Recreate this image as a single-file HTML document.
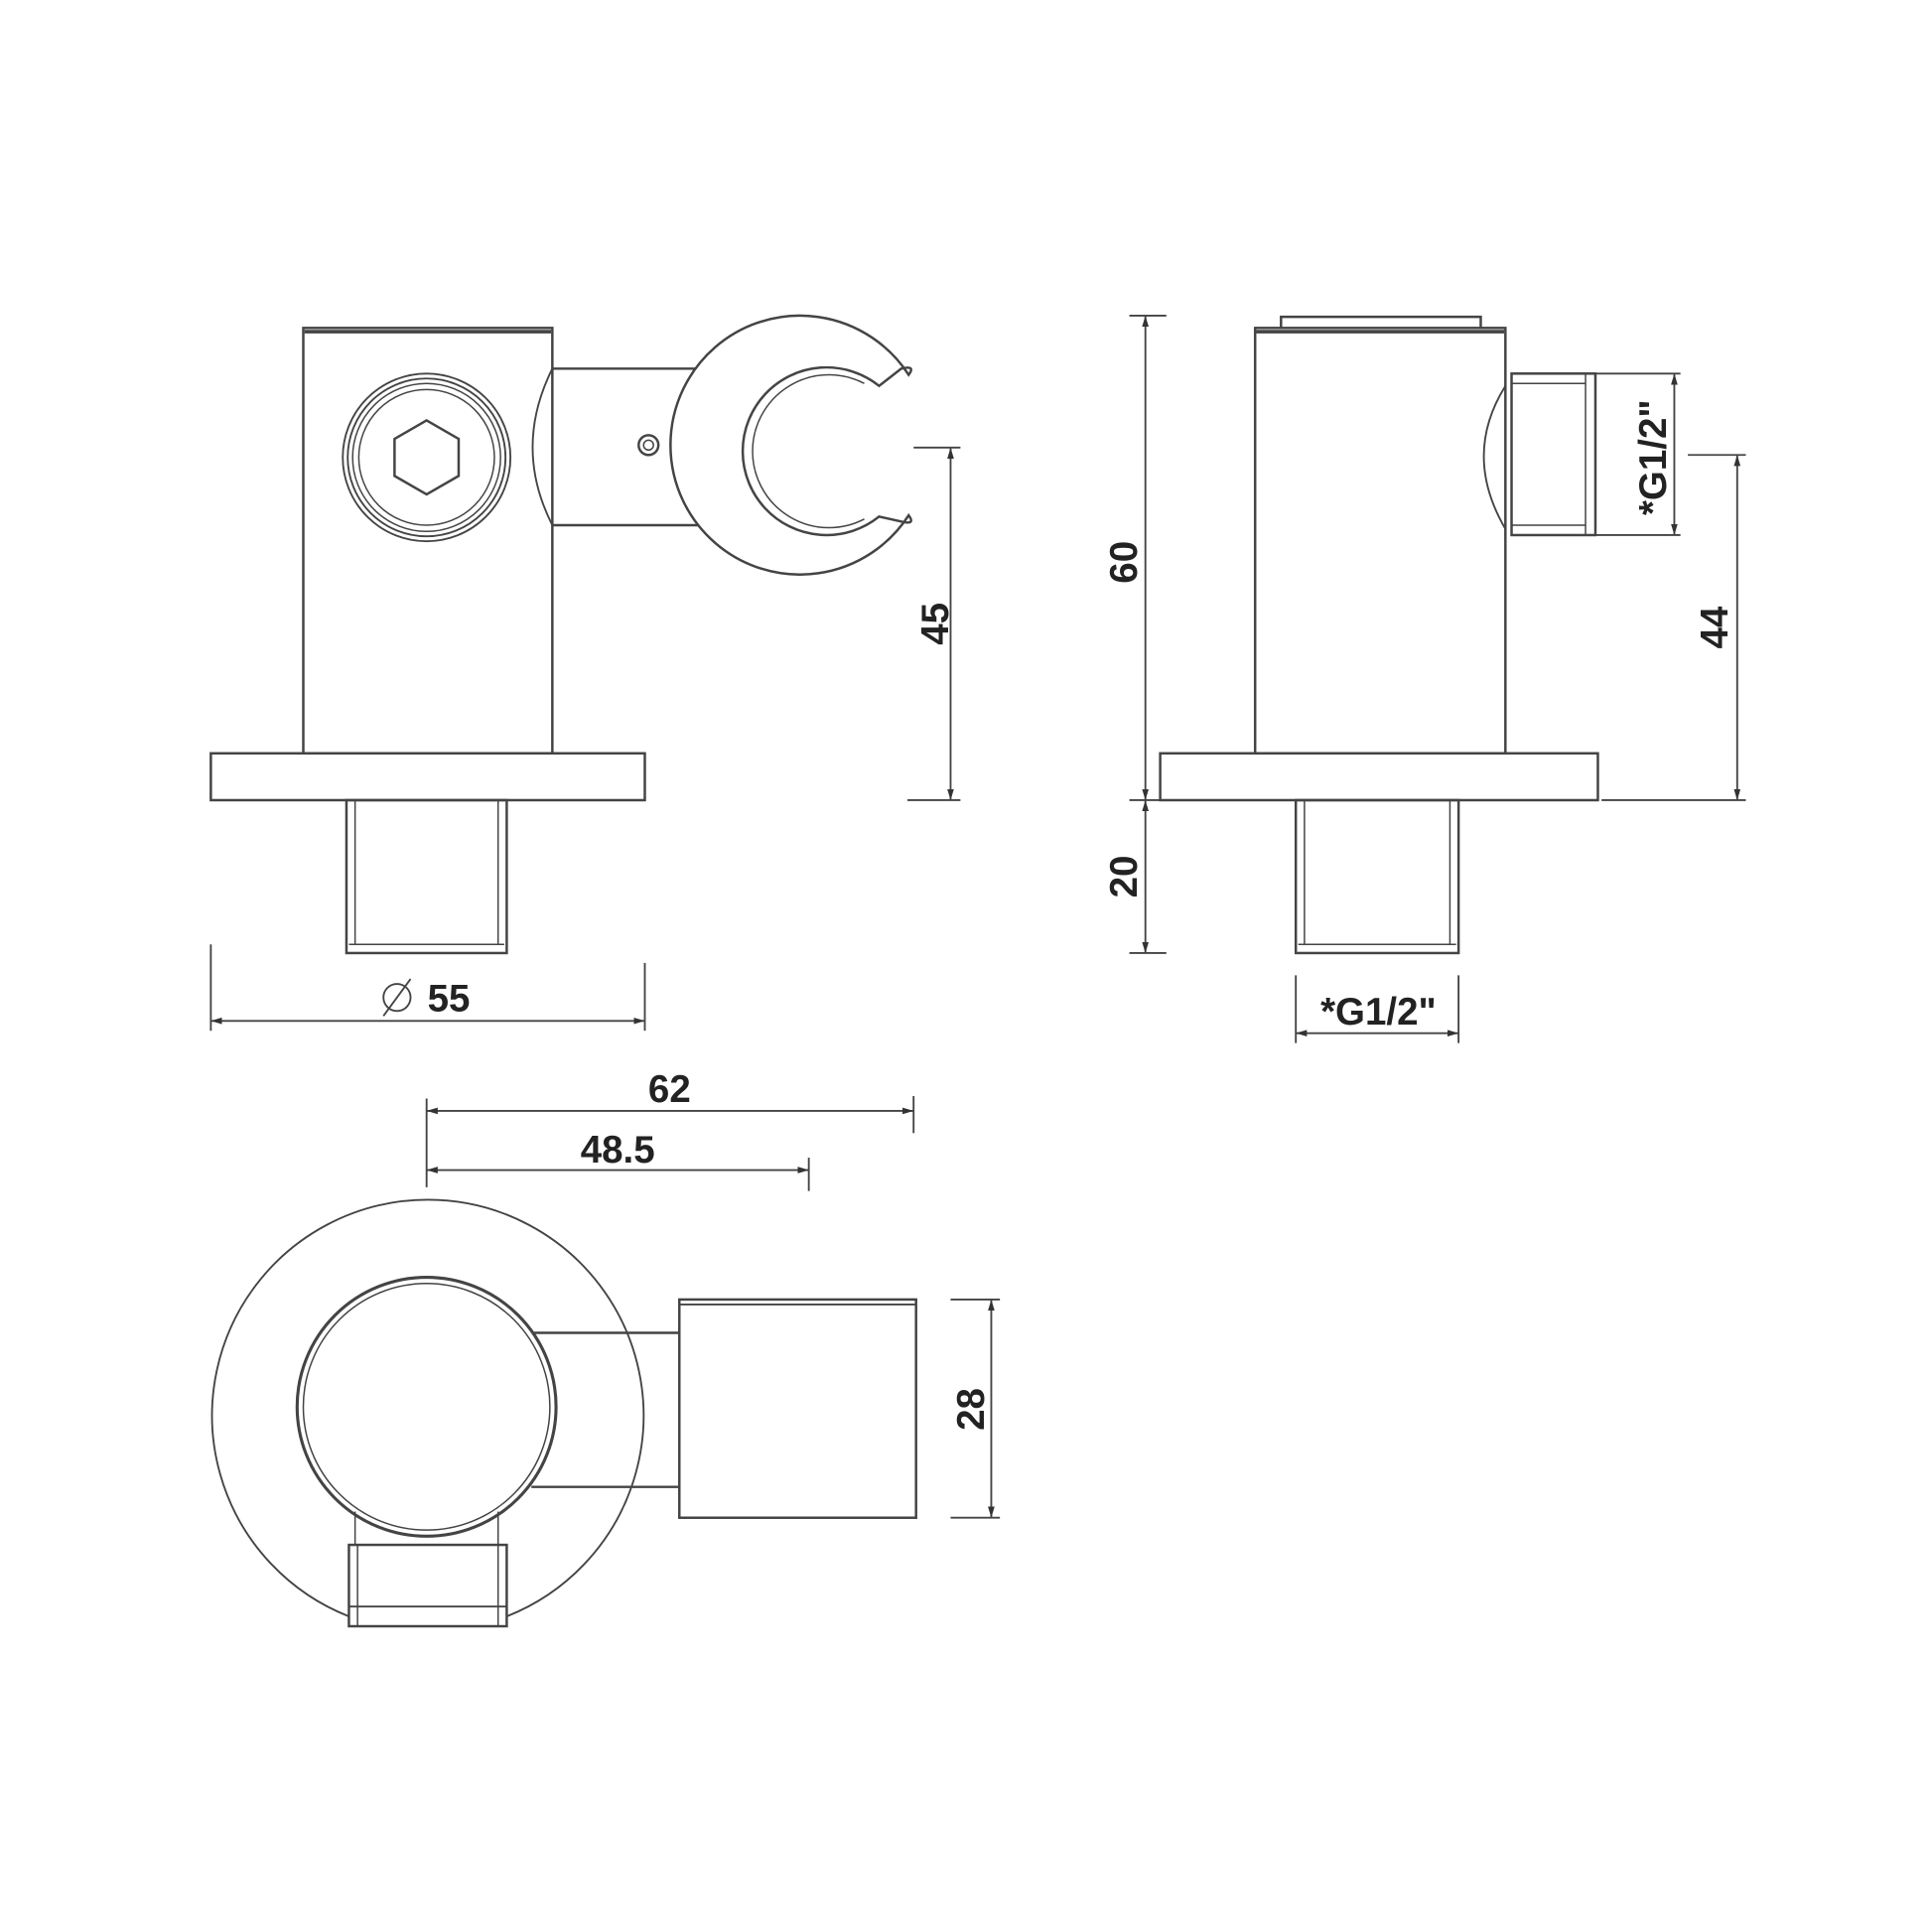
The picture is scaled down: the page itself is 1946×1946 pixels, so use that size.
<!DOCTYPE html>
<html><head><style>html,body{margin:0;padding:0;background:#fff}svg{display:block}</style></head>
<body>
<svg width="1946" height="1946" viewBox="-1 -1 1567 1567" xmlns="http://www.w3.org/2000/svg">
<defs>
<marker id="a" viewBox="0 0 10 10" refX="10" refY="5" markerWidth="9" markerHeight="9" orient="auto-start-reverse" markerUnits="userSpaceOnUse"><path d="M0,2 L10,5 L0,8 z" fill="#333"/></marker>
</defs>
<g fill="none" stroke="#444" stroke-width="2">
<!-- FRONT VIEW -->
<rect x="245" y="265" width="202" height="345"/>
<line x1="246" y1="268" x2="446" y2="268" stroke-width="3"/>
<rect x="170" y="610" width="352" height="38"/>
<rect x="280" y="648" width="130" height="124"/>
<line x1="287" y1="648" x2="287" y2="765" stroke-width="1.2"/>
<line x1="403" y1="648" x2="403" y2="765" stroke-width="1.2"/>
<line x1="282" y1="765" x2="408" y2="765" stroke-width="1.2"/>
<circle cx="345" cy="370" r="68" stroke-width="1.5"/>
<circle cx="345" cy="370" r="64" stroke-width="1.5"/>
<circle cx="345" cy="370" r="60" stroke-width="1.2"/>
<circle cx="345" cy="370" r="55" stroke-width="1.2"/>
<polygon points="345,340 371,355 371,385 345,400 319,385 319,355"/>
<path d="M447,298 L570,298 M447,425 L565,425"/>
<path d="M447,298 Q415,362 447,425" stroke-width="1.5"/>
<circle cx="525" cy="360" r="8"/>
<circle cx="525" cy="360" r="4" stroke-width="1.2"/>
<path d="M736,303 A105,105 0 1 0 736,417 Q742,425 730,422 L712,418 A68,68 0 1 1 712,312 L730,298 Q742,295 736,303 Z" fill="#fff"/>
<path d="M700,310 A62,62 0 1 0 700,420" stroke-width="1.2"/>
<!-- 45 -->
<line x1="770" y1="362" x2="770" y2="648" stroke-width="1.5" marker-start="url(#a)" marker-end="url(#a)"/>
<line x1="740" y1="362" x2="778" y2="362" stroke-width="1.5"/>
<line x1="735" y1="648" x2="778" y2="648" stroke-width="1.5"/>
<!-- 55 -->
<line x1="170" y1="827" x2="522" y2="827" stroke-width="1.5" marker-start="url(#a)" marker-end="url(#a)"/>
<line x1="170" y1="765" x2="170" y2="835" stroke-width="1.5"/>
<line x1="522" y1="780" x2="522" y2="835" stroke-width="1.5"/>
<circle cx="321" cy="808" r="11" stroke-width="1.5"/>
<line x1="310" y1="823" x2="332" y2="793" stroke-width="1.5"/>

<!-- SIDE VIEW -->
<rect x="1017" y="265" width="203" height="345"/>
<line x1="1018" y1="268" x2="1219" y2="268" stroke-width="3"/>
<path d="M1038,265 L1038,256 L1200,256 L1200,265"/>
<rect x="940" y="610" width="355" height="38"/>
<rect x="1050" y="648" width="132" height="124"/>
<line x1="1057" y1="648" x2="1057" y2="765" stroke-width="1.2"/>
<line x1="1175" y1="648" x2="1175" y2="765" stroke-width="1.2"/>
<line x1="1052" y1="765" x2="1180" y2="765" stroke-width="1.2"/>
<path d="M1220,312 Q1185,368 1220,428" stroke-width="1.5"/>
<rect x="1225" y="302" width="68" height="131"/>
<line x1="1225" y1="310" x2="1285" y2="310" stroke-width="1.2"/>
<line x1="1225" y1="425" x2="1285" y2="425" stroke-width="1.2"/>
<line x1="1285" y1="302" x2="1285" y2="433" stroke-width="1.2"/>
<!-- 60/20 -->
<line x1="928" y1="255" x2="928" y2="648" stroke-width="1.5" marker-start="url(#a)" marker-end="url(#a)"/>
<line x1="928" y1="648" x2="928" y2="772" stroke-width="1.5" marker-start="url(#a)" marker-end="url(#a)"/>
<line x1="915" y1="255" x2="945" y2="255" stroke-width="1.5"/>
<line x1="915" y1="648" x2="940" y2="648" stroke-width="1.5"/>
<line x1="915" y1="772" x2="945" y2="772" stroke-width="1.5"/>
<!-- 44 -->
<line x1="1408" y1="368" x2="1408" y2="648" stroke-width="1.5" marker-start="url(#a)" marker-end="url(#a)"/>
<line x1="1368" y1="368" x2="1415" y2="368" stroke-width="1.5"/>
<line x1="1298" y1="648" x2="1415" y2="648" stroke-width="1.5"/>
<!-- G1/2 side -->
<line x1="1357" y1="302" x2="1357" y2="433" stroke-width="1.5" marker-start="url(#a)" marker-end="url(#a)"/>
<line x1="1293" y1="302" x2="1362" y2="302" stroke-width="1.5"/>
<line x1="1293" y1="433" x2="1362" y2="433" stroke-width="1.5"/>
<!-- G1/2 bottom -->
<line x1="1050" y1="837" x2="1182" y2="837" stroke-width="1.5" marker-start="url(#a)" marker-end="url(#a)"/>
<line x1="1050" y1="790" x2="1050" y2="845" stroke-width="1.5"/>
<line x1="1182" y1="790" x2="1182" y2="845" stroke-width="1.5"/>

<!-- TOP VIEW -->
<line x1="345" y1="900" x2="740" y2="900" stroke-width="1.5" marker-start="url(#a)" marker-end="url(#a)"/>
<line x1="345" y1="890" x2="345" y2="962" stroke-width="1.5"/>
<line x1="740" y1="888" x2="740" y2="918" stroke-width="1.5"/>
<line x1="345" y1="948" x2="655" y2="948" stroke-width="1.5" marker-start="url(#a)" marker-end="url(#a)"/>
<line x1="655" y1="938" x2="655" y2="965" stroke-width="1.5"/>
<path d="M282,1310 A175,175 0 1 1 410,1310" stroke-width="1.5"/>
<circle cx="345" cy="1140" r="105" stroke-width="2.5"/>
<circle cx="345" cy="1140" r="100" stroke-width="1.2"/>
<path d="M432,1080 L550,1080 M430,1205 L550,1205"/>
<path d="M550,1080 Q595,1140 550,1205" stroke-width="1.5"/>
<path d="M287,1225 L287,1252 M403,1225 L403,1252" stroke-width="1.2"/>
<rect x="550" y="1053" width="192" height="177" fill="#fff"/>
<line x1="551" y1="1057" x2="741" y2="1057" stroke-width="1.5"/>
<rect x="282" y="1252" width="128" height="66" fill="#fff"/>
<line x1="282" y1="1302" x2="410" y2="1302" stroke-width="1.5"/>
<line x1="289" y1="1252" x2="289" y2="1318" stroke-width="1.2"/>
<line x1="403" y1="1252" x2="403" y2="1318" stroke-width="1.2"/>
<!-- 28 -->
<line x1="803" y1="1053" x2="803" y2="1230" stroke-width="1.5" marker-start="url(#a)" marker-end="url(#a)"/>
<line x1="770" y1="1053" x2="810" y2="1053" stroke-width="1.5"/>
<line x1="770" y1="1230" x2="810" y2="1230" stroke-width="1.5"/>
</g>
<g font-family="Liberation Sans, Arial, sans-serif" font-weight="bold" font-size="31" fill="#222" text-anchor="middle">
<text x="363" y="819">55</text>
<text x="542" y="893">62</text>
<text x="500" y="942">48.5</text>
<text x="1117" y="830">*G1/2"</text>
<text transform="translate(768,505) rotate(-90)">45</text>
<text transform="translate(921,455) rotate(-90)">60</text>
<text transform="translate(921,710) rotate(-90)">20</text>
<text transform="translate(1400,508) rotate(-90)">44</text>
<text transform="translate(1350,370) rotate(-90)">*G1/2"</text>
<text transform="translate(797,1142) rotate(-90)">28</text>
</g>
</svg>
</body></html>
